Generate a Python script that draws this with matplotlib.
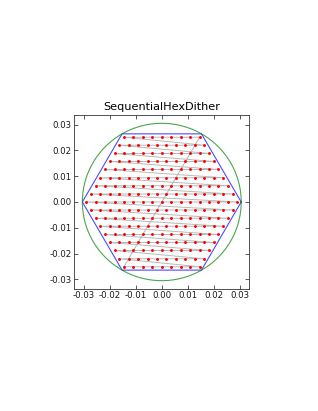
import numpy as np
import matplotlib
matplotlib.use('Agg')
import matplotlib.pyplot as plt

# dither geometry (radians)
max_dither = 0.0305
fov_radius = 0.0305

# hex grid of offsets, read row by row from bottom to top
row_y = [-0.0251, -0.0220, -0.0188, -0.0157, -0.0126, -0.0094, -0.0063, -0.0031, 0.0,
         0.0031, 0.0063, 0.0094, 0.0126, 0.0157, 0.0188, 0.0220, 0.0251]
row_n = [9, 10, 11, 12, 13, 14, 15, 16, 17, 16, 15, 14, 13, 12, 11, 10, 9]
row_x_start = [-0.01452, -0.01634, -0.01815, -0.01997, -0.02178, -0.02360, -0.02541, -0.02723, -0.02904,
               -0.02723, -0.02541, -0.02360, -0.02178, -0.01997, -0.01815, -0.01634, -0.01452]
step_x = 0.00363

hex_x = [0.0305, 0.01525, -0.01525, -0.0305, -0.01525, 0.01525, 0.0305]
hex_y = [0.0, 0.0264, 0.0264, 0.0, -0.0264, -0.0264, 0.0]

xoff = []
yoff = []
for y, n, x0 in zip(row_y, row_n, row_x_start):
    for k in range(n):
        xoff.append(x0 + step_x * k)
        yoff.append(y)
# sequence wraps back to the first offset
xseq = xoff + [xoff[0]]
yseq = yoff + [yoff[0]]

plt.rcParams['font.family'] = 'DejaVu Sans'
fig = plt.figure(figsize=(3.18, 4.11), dpi=100)
ax = fig.add_axes([0.2336, 0.2976, 0.5503, 0.4219])

ax.plot(xseq, yseq, color='0.72', lw=0.7, zorder=1)
ax.plot(xoff, yoff, 'r.', ms=2.2, mec='r', zorder=3)
ax.plot(hex_x, hex_y, color='b', lw=0.8, alpha=0.7, zorder=2)
t = np.linspace(0, 2 * np.pi, 300)
ax.plot(fov_radius * np.cos(t), fov_radius * np.sin(t), color='g', lw=0.8, alpha=0.7, zorder=2)

lim = 0.0336
ax.set_xlim(-lim, lim)
ax.set_ylim(-lim, lim)
ticks = [-0.03, -0.02, -0.01, 0.0, 0.01, 0.02, 0.03]
ax.set_xticks(ticks)
ax.set_yticks(ticks)
ax.set_xticklabels(['%.2f' % v if v != 0 else '0.00' for v in ticks])
ax.set_yticklabels(['%.2f' % v if v != 0 else '0.00' for v in ticks])
ax.tick_params(direction='in', top=True, right=True, length=3, width=0.5,
               labelsize=6.2, pad=2, colors='0.1')
for s in ax.spines.values():
    s.set_linewidth(0.6)
    s.set_color('0.2')
ax.set_title('SequentialHexDither', fontsize=8.1, pad=4)

fig.savefig('out.png', dpi=100)
